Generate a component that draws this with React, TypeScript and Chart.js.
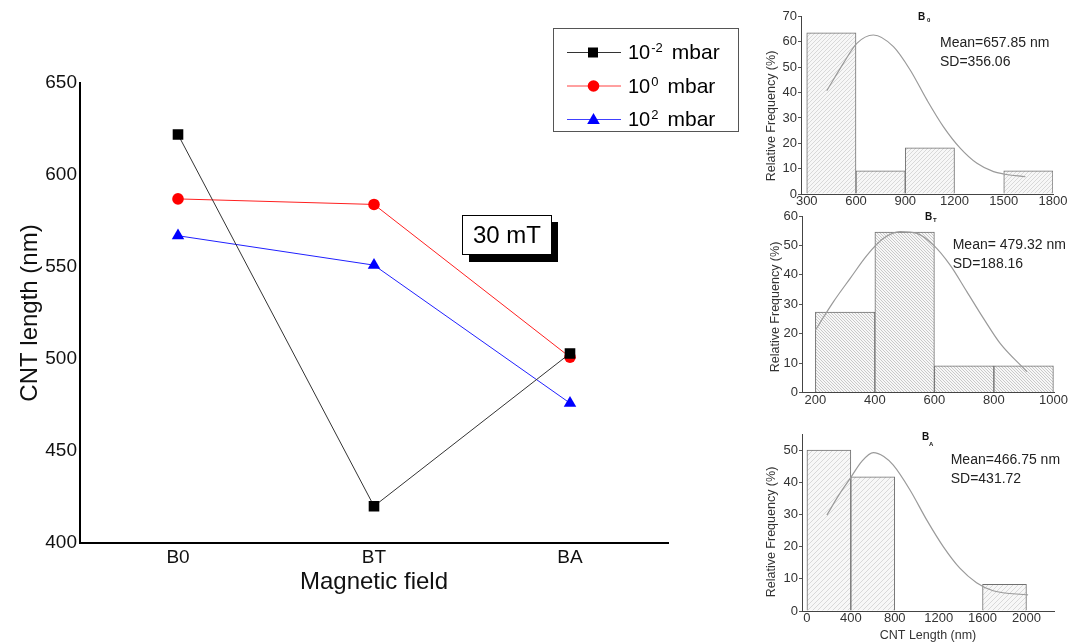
import React, { useEffect, useRef } from 'react';
import { Chart, registerables } from 'chart.js';

Chart.register(...registerables);

const FONT = '"Liberation Sans", Arial, Helvetica, sans-serif';

// ---- main line chart data ----
const fieldCategories = ['B0', 'BT', 'BA'];
const lowPressureLength = [622, 420, 503];
const midPressureLength = [587, 584, 501];
const highPressureLength = [567, 551, 476];
const lengthTicks = [400, 450, 500, 550, 600, 650];
const pressureBase = ['10', '10', '10'];
const pressureExponent = ['-2', '0', '2'];
const fieldLabel = '30 mT';

// ---- histogram B0 ----
const b0BinCenters = [450, 750, 1050, 1350, 1650];
const b0Frequency = [63.6, 9.1, 18.2, 0, 9.1];
const b0FitX = [422, 523, 605, 706, 828, 930, 1032, 1133, 1236, 1337, 1438, 1499, 1632];
const b0FitY = [40.7, 51.5, 59.4, 62.7, 58.1, 48.9, 37.1, 26.5, 18.0, 12.1, 8.8, 7.9, 6.8];
const b0XTicks = [300, 600, 900, 1200, 1500, 1800];
const b0YTicks = [0, 10, 20, 30, 40, 50, 60, 70];

// ---- histogram BT ----
const btBinCenters = [300, 500, 700, 900];
const btFrequency = [27.3, 54.5, 9.1, 9.1];
const btFitX = [200, 261, 317, 374, 429, 485, 541, 597, 653, 709, 765, 821, 911];
const btFitY = [21.2, 30.9, 38.8, 46.7, 52.4, 54.7, 54.1, 50.1, 43.3, 34.3, 25.2, 16.7, 7.1];
const btXTicks = [200, 400, 600, 800, 1000];
const btYTicks = [0, 10, 20, 30, 40, 50, 60];

// ---- histogram BA ----
const baBinCenters = [200, 600, 1000, 1400, 1800];
const baFrequency = [50.0, 41.7, 0, 0, 8.3];
const baFitX = [182, 290, 394, 500, 605, 700, 787, 939, 1091, 1242, 1393, 1545, 1696, 2015];
const baFitY = [29.8, 36.0, 41.2, 46.5, 49.2, 48.0, 45.3, 37.6, 28.3, 20.0, 13.3, 8.8, 6.3, 5.0];
const baXTicks = [0, 400, 800, 1200, 1600, 2000];
const baYTicks = [0, 10, 20, 30, 40, 50];

function MainChart() {
  const ref = useRef<HTMLCanvasElement | null>(null);
  useEffect(() => {
    const canvas = ref.current!;
    const overlay = {
      id: 'overlay',
      afterDraw(chart: any) {
        const ctx = chart.ctx as CanvasRenderingContext2D;
        ctx.save();
        // legend box
        ctx.fillStyle = '#fff';
        ctx.fillRect(553.5, 28.5, 185, 103);
        ctx.strokeStyle = '#555';
        ctx.lineWidth = 1;
        ctx.strokeRect(553.5, 28.5, 185, 103);
        const rows = [52, 85.5, 119];
        const colors = ['#000', '#ff0000', '#0000ff'];
        const lineColors = ['#333', '#ff4040', '#4040ff'];
        rows.forEach((y, i) => {
          ctx.strokeStyle = lineColors[i];
          ctx.lineWidth = 1;
          ctx.beginPath();
          ctx.moveTo(567, y + 0.5);
          ctx.lineTo(621, y + 0.5);
          ctx.stroke();
          ctx.fillStyle = colors[i];
          ctx.beginPath();
          if (i === 0) {
            ctx.rect(588, y - 4.5, 10, 10);
          } else if (i === 1) {
            ctx.arc(593.5, y + 0.5, 5.8, 0, Math.PI * 2);
          } else {
            ctx.moveTo(593.5, y - 6);
            ctx.lineTo(599.8, y + 5);
            ctx.lineTo(587.2, y + 5);
            ctx.closePath();
          }
          ctx.fill();
          ctx.fillStyle = '#000';
          ctx.textBaseline = 'alphabetic';
          ctx.textAlign = 'left';
          const base = y + 7;
          ctx.font = `20px ${FONT}`;
          ctx.fillText(pressureBase[i], 628, base);
          let x = 628 + ctx.measureText(pressureBase[i]).width + 1;
          ctx.font = `13px ${FONT}`;
          ctx.fillText(pressureExponent[i], x, base - 7);
          x += ctx.measureText(pressureExponent[i]).width;
          ctx.font = `21px ${FONT}`;
          ctx.fillText('mbar', x + 9, base);
        });
        // 30 mT box with shadow
        ctx.fillStyle = '#000';
        ctx.fillRect(469, 222, 89, 40);
        ctx.fillStyle = '#fff';
        ctx.fillRect(462.5, 215.5, 89, 39);
        ctx.strokeStyle = '#000';
        ctx.lineWidth = 1;
        ctx.strokeRect(462.5, 215.5, 89, 39);
        ctx.fillStyle = '#000';
        ctx.font = `24px ${FONT}`;
        ctx.textAlign = 'center';
        ctx.textBaseline = 'middle';
        ctx.fillText(fieldLabel, 507, 236);
        ctx.restore();
      },
    };
    const chart = new Chart(canvas, {
      type: 'line',
      data: {
        labels: fieldCategories,
        datasets: [
          {
            label: '10-2 mbar',
            data: lowPressureLength,
            borderColor: '#333',
            borderWidth: 1,
            pointStyle: 'rect',
            pointRadius: 7.5,
            pointBorderWidth: 0,
            pointBackgroundColor: '#000',
            tension: 0,
          },
          {
            label: '100 mbar',
            data: midPressureLength,
            borderColor: '#ff2020',
            borderWidth: 1,
            pointStyle: 'circle',
            pointRadius: 5.8,
            pointBorderWidth: 0,
            pointBackgroundColor: '#ff0000',
            tension: 0,
          },
          {
            label: '102 mbar',
            data: highPressureLength,
            borderColor: '#2020ff',
            borderWidth: 1,
            pointStyle: 'triangle',
            pointRadius: 7.2,
            pointBorderWidth: 0,
            pointBackgroundColor: '#0000ff',
            tension: 0,
          },
        ],
      },
      options: {
        animation: false,
        responsive: false,
        layout: { padding: { left: 0, top: 83, right: 92, bottom: 0 } },
        plugins: { legend: { display: false }, tooltip: { enabled: false } },
        scales: {
          x: {
            type: 'category',
            offset: true,
            grid: { display: false, drawTicks: false },
            border: { display: true, color: '#000', width: 2 },
            ticks: { color: '#111', font: { family: FONT, size: 19 }, padding: 3 },
            title: {
              display: true,
              text: 'Magnetic field',
              color: '#111',
              font: { family: FONT, size: 24 },
              padding: { top: 0, bottom: 47 },
            },
            afterFit: (s: any) => {
              s.height = 101;
            },
          },
          y: {
            type: 'linear',
            min: 400,
            max: 650,
            grid: { display: false, drawTicks: false },
            border: { display: true, color: '#000', width: 2 },
            ticks: {
              color: '#111',
              font: { family: FONT, size: 19 },
              padding: 3,
              callback: (v: any) => String(v),
            },
            afterBuildTicks: (s: any) => {
              s.ticks = lengthTicks.map((v) => ({ value: v }));
            },
            title: {
              display: true,
              text: 'CNT length (nm)',
              color: '#111',
              font: { family: FONT, size: 24 },
              padding: { top: 16, bottom: 0 },
            },
            afterFit: (s: any) => {
              s.width = 80;
            },
          },
        },
      },
      plugins: [overlay],
    } as any);
    return () => chart.destroy();
  }, []);
  return (
    <canvas
      ref={ref}
      width={760}
      height={644}
      style={{ position: 'absolute', left: 0, top: 0, width: 760, height: 644, display: 'block' }}
    />
  );
}

type Box = { left: number; top: number; width: number; height: number };
type Plot = { left: number; right: number; top: number; bottom: number };

type HistProps = {
  box: Box;
  plot: Plot;
  centers: number[];
  freqs: number[];
  fitX: number[];
  fitY: number[];
  xMin: number;
  xMax: number;
  xTicks: number[];
  yMax: number;
  yTicks: number[];
  hatchSpacing: number;
  hatchDir: 1 | -1;
  hatchColor: string;
  sub: string;
  titlePos: [number, number, number, number];
  mean: string;
  sd: string;
  statsPos: [number, number, number];
  yTitleCenter: [number, number];
  xTitle?: string;
  xTitleCenter?: [number, number];
};

function makeHatch(ctx: CanvasRenderingContext2D, s: number, dir: 1 | -1, color: string) {
  const c = document.createElement('canvas');
  c.width = s;
  c.height = s;
  const g = c.getContext('2d')!;
  g.fillStyle = '#f7f7f7';
  g.fillRect(0, 0, s, s);
  g.strokeStyle = color;
  g.lineWidth = 0.8;
  g.beginPath();
  if (dir === 1) {
    g.moveTo(-1, s + 1);
    g.lineTo(s + 1, -1);
    g.moveTo(-1, 1);
    g.lineTo(1, -1);
    g.moveTo(s - 1, s + 1);
    g.lineTo(s + 1, s - 1);
  } else {
    g.moveTo(-1, -1);
    g.lineTo(s + 1, s + 1);
    g.moveTo(s - 1, -1);
    g.lineTo(s + 1, 1);
    g.moveTo(-1, s - 1);
    g.lineTo(1, s + 1);
  }
  g.stroke();
  return ctx.createPattern(c, 'repeat');
}

function Histogram(p: HistProps) {
  const ref = useRef<HTMLCanvasElement | null>(null);
  useEffect(() => {
    const canvas = ref.current!;
    const ctx0 = canvas.getContext('2d')!;
    const pattern = makeHatch(ctx0, p.hatchSpacing, p.hatchDir, p.hatchColor);
    const ox = p.box.left;
    const oy = p.box.top;
    const yAxisWidth = p.plot.left - p.box.left;
    const xAxisHeight = p.box.top + p.box.height - p.plot.bottom;
    const texts = {
      id: 'texts',
      afterDraw(chart: any) {
        const ctx = chart.ctx as CanvasRenderingContext2D;
        ctx.save();
        ctx.textAlign = 'left';
        ctx.textBaseline = 'alphabetic';
        ctx.fillStyle = '#111';
        ctx.font = `bold 10px ${FONT}`;
        ctx.fillText('B', p.titlePos[0] - ox, p.titlePos[1] - oy);
        ctx.font = `bold 6px ${FONT}`;
        ctx.fillText(p.sub, p.titlePos[2] - ox, p.titlePos[3] - oy);
        ctx.fillStyle = '#222';
        ctx.font = `14px ${FONT}`;
        ctx.fillText(p.mean, p.statsPos[0] - ox, p.statsPos[1] - oy);
        ctx.fillText(p.sd, p.statsPos[0] - ox, p.statsPos[2] - oy);
        ctx.font = `12.5px ${FONT}`;
        ctx.fillStyle = '#333';
        ctx.textAlign = 'center';
        ctx.textBaseline = 'middle';
        ctx.save();
        ctx.translate(p.yTitleCenter[0] - ox, p.yTitleCenter[1] - oy);
        ctx.rotate(-Math.PI / 2);
        ctx.fillText('Relative Frequency (%)', 0, 0);
        ctx.restore();
        if (p.xTitle && p.xTitleCenter) {
          ctx.fillText(p.xTitle, p.xTitleCenter[0] - ox, p.xTitleCenter[1] - oy);
        }
        ctx.restore();
      },
    };
    const chart = new Chart(canvas, {
      type: 'bar',
      data: {
        datasets: [
          {
            type: 'line',
            data: p.fitX.map((x, i) => ({ x, y: p.fitY[i] })),
            borderColor: '#9a9a9a',
            borderWidth: 1.2,
            pointRadius: 0,
            fill: false,
            cubicInterpolationMode: 'monotone',
          },
          {
            type: 'bar',
            data: p.centers.map((x, i) => ({ x, y: p.freqs[i] })),
            backgroundColor: pattern as any,
            borderColor: '#707070',
            borderWidth: 1,
            barPercentage: 1,
            categoryPercentage: 1,
          },
        ],
      },
      options: {
        animation: false,
        responsive: false,
        layout: {
          padding: {
            left: 0,
            top: p.plot.top - p.box.top,
            right: p.box.left + p.box.width - p.plot.right,
            bottom: 0,
          },
        },
        plugins: { legend: { display: false }, tooltip: { enabled: false } },
        scales: {
          x: {
            type: 'linear',
            min: p.xMin,
            max: p.xMax,
            offset: false,
            grid: { display: false, drawTicks: false, offset: false },
            border: { display: true, color: '#444', width: 1 },
            ticks: {
              color: '#333',
              font: { family: FONT, size: 13 },
              padding: 0,
              maxRotation: 0,
              callback: (v: any) => String(v),
            },
            afterBuildTicks: (s: any) => {
              s.ticks = p.xTicks.map((v) => ({ value: v }));
            },
            afterFit: (s: any) => {
              s.height = xAxisHeight;
            },
          },
          y: {
            type: 'linear',
            min: 0,
            max: p.yMax,
            grid: {
              display: true,
              drawOnChartArea: false,
              drawTicks: true,
              tickLength: 3,
              color: '#555',
            },
            border: { display: true, color: '#444', width: 1 },
            ticks: {
              color: '#333',
              font: { family: FONT, size: 13 },
              padding: 1,
              callback: (v: any) => String(v),
            },
            afterBuildTicks: (s: any) => {
              s.ticks = p.yTicks.map((v) => ({ value: v }));
            },
            afterFit: (s: any) => {
              s.width = yAxisWidth;
            },
          },
        },
      },
      plugins: [texts],
    } as any);
    return () => chart.destroy();
  }, []);
  return (
    <canvas
      ref={ref}
      width={p.box.width}
      height={p.box.height}
      style={{
        position: 'absolute',
        left: p.box.left,
        top: p.box.top,
        width: p.box.width,
        height: p.box.height,
        display: 'block',
      }}
    />
  );
}

export default function App() {
  return (
    <div
      style={{
        position: 'fixed',
        left: 0,
        top: 0,
        width: 1075,
        height: 644,
        background: '#fff',
        overflow: 'hidden',
      }}
    >
      <MainChart />
      <Histogram
        box={{ left: 760, top: 0, width: 315, height: 210 }}
        plot={{ left: 801, right: 1053, top: 16.5, bottom: 194 }}
        centers={b0BinCenters}
        freqs={b0Frequency}
        fitX={b0FitX}
        fitY={b0FitY}
        xMin={265}
        xMax={1800}
        xTicks={b0XTicks}
        yMax={70}
        yTicks={b0YTicks}
        hatchSpacing={4}
        hatchDir={1}
        hatchColor="#cfcfcf"
        sub="0"
        titlePos={[918, 20, 927, 22]}
        mean="Mean=657.85 nm"
        sd="SD=356.06"
        statsPos={[940, 47, 66]}
        yTitleCenter={[772, 116]}
      />
      <Histogram
        box={{ left: 760, top: 200, width: 315, height: 212 }}
        plot={{ left: 802, right: 1054, top: 216, bottom: 392.5 }}
        centers={btBinCenters}
        freqs={btFrequency}
        fitX={btFitX}
        fitY={btFitY}
        xMin={155}
        xMax={1002}
        xTicks={btXTicks}
        yMax={60}
        yTicks={btYTicks}
        hatchSpacing={3}
        hatchDir={-1}
        hatchColor="#bdbdbd"
        sub="T"
        titlePos={[925, 220, 933, 222]}
        mean="Mean= 479.32 nm"
        sd="SD=188.16"
        statsPos={[952.7, 249, 268]}
        yTitleCenter={[776, 307]}
      />
      <Histogram
        box={{ left: 760, top: 418, width: 315, height: 226 }}
        plot={{ left: 802, right: 1054, top: 434, bottom: 611 }}
        centers={baBinCenters}
        freqs={baFrequency}
        fitX={baFitX}
        fitY={baFitY}
        xMin={-45}
        xMax={2251}
        xTicks={baXTicks}
        yMax={55}
        yTicks={baYTicks}
        hatchSpacing={5}
        hatchDir={1}
        hatchColor="#cfcfcf"
        sub="A"
        titlePos={[922, 440, 929, 446]}
        mean="Mean=466.75 nm"
        sd="SD=431.72"
        statsPos={[950.7, 464, 483]}
        yTitleCenter={[772, 532]}
        xTitle="CNT Length (nm)"
        xTitleCenter={[928, 636]}
      />
    </div>
  );
}
